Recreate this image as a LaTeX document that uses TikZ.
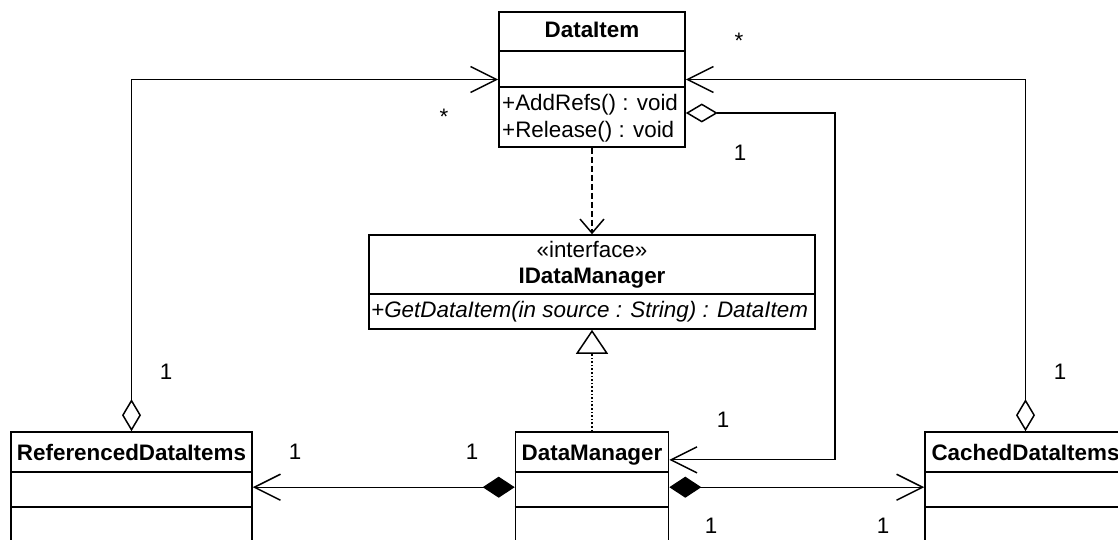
\documentclass[tikz,border=0pt]{standalone}
\usepackage{fontspec}
\setmainfont{Liberation Sans}
\usepackage{tikz}
\usetikzlibrary{arrows.meta}

\begin{document}
\begin{tikzpicture}[x=1pt, y=-1pt,
  font=\fontsize{22.4}{26}\selectfont,
  classbox/.style={draw, line width=1.6pt, inner sep=0pt},
  title/.style={font=\fontsize{22.4}{26}\selectfont\bfseries, inner sep=0pt, anchor=base},
  member/.style={inner sep=0pt, anchor=base west},
  mult/.style={inner sep=0pt},
  aggr/.style={line width=1.1pt, {Diamond[open,length=32pt,width=19pt,line width=1.5pt]}-{Straight Barb[length=26pt,width=26pt,line width=1.5pt]}},
  comp/.style={line width=1.1pt, {Diamond[length=32pt,width=21pt]}-{Straight Barb[length=26pt,width=26pt,line width=1.5pt]}},
  realize/.style={line width=1.6pt, dotted, -{Triangle[open,length=24pt,width=32pt,line width=1.5pt]}},
  depend/.style={line width=2.4pt, dash pattern=on 6pt off 3pt, -{Straight Barb[length=14pt,width=24pt,line width=1.5pt]}}]
\useasboundingbox (0,0) rectangle (1118,540);
\clip (0,0) rectangle (1118,540);

% classes
\node[classbox, minimum width=186pt, minimum height=135pt] (item) at (592,79.5) {};
\node[classbox, minimum width=446pt, minimum height=94pt] (iface) at (592,282) {};
\node[classbox, minimum width=241pt, minimum height=168pt] (refd) at (131.5,516) {};
\node[classbox, minimum width=153pt, minimum height=168pt] (dm) at (592,516) {};
\node[classbox, minimum width=201pt, minimum height=168pt] (cached) at (1025.5,516) {};

% compartments
\draw[line width=1.6pt] ([yshift=-40pt]item.north west) -- ([yshift=-40pt]item.north east);
\draw[line width=1.6pt] ([yshift=-76pt]item.north west) -- ([yshift=-76pt]item.north east);
\draw[line width=1.6pt] ([yshift=-60pt]iface.north west) -- ([yshift=-60pt]iface.north east);
\foreach \c in {refd,dm,cached} {
  \draw[line width=1.6pt] ([yshift=-41pt]\c.north west) -- ([yshift=-41pt]\c.north east);
  \draw[line width=1.6pt] ([yshift=-76pt]\c.north west) -- ([yshift=-76pt]\c.north east);
}

\node[title] (itemname) at (592,38) {DataItem};
\node[member] (addrefs) at (502,111) {+AddRefs() : void};
\node[member] (release) at (502,138) {+Release() : void};
\node[inner sep=0pt, anchor=base] (stereo) at (592,257) {«interface»};
\node[title] (ifacename) at (592,283) {IDataManager};
\node[member, font=\fontsize{22.4}{26}\selectfont\itshape] (getitem) at (371,317) {+GetDataItem(in source : String) : DataItem};
\node[title] (refdname) at (131.5,460) {ReferencedDataItems};
\node[title] (dmname) at (592,460) {DataManager};
\node[title] (cachedname) at (1025.5,460) {CachedDataItems};

% connectors
\coordinate (itemout) at ([yshift=-33.5pt]item.east);
\coordinate (bend) at (835,113);
\coordinate (dmin) at ([yshift=-28.7pt]dm.north east);
\draw[aggr] (refd.north) |- (item.west);
\draw[aggr] (cached.north) |- (item.east);
\draw[aggr] (itemout) -- (bend) |- (dmin);
\draw[comp] ([yshift=-56pt]dm.north west) -- ([yshift=-56pt]refd.north east);
\draw[comp] ([yshift=-56pt]dm.north east) -- ([yshift=-56pt]cached.north west);
\draw[realize] (dm.north) -- (iface.south);
\draw[depend] (item.south) -- (iface.north);

% multiplicities
\node[mult] (m1) at (444,117) {*};
\node[mult] (m2) at (739,41) {*};
\node[mult] (m3) at (740,153) {1};
\node[mult] (m4) at (166,372) {1};
\node[mult] (m5) at (1060,372) {1};
\node[mult] (m6) at (723,420) {1};
\node[mult] (m7) at (295,452) {1};
\node[mult] (m8) at (472,452) {1};
\node[mult] (m9) at (711,526) {1};
\node[mult] (m10) at (883,526) {1};
\end{tikzpicture}
\end{document}
